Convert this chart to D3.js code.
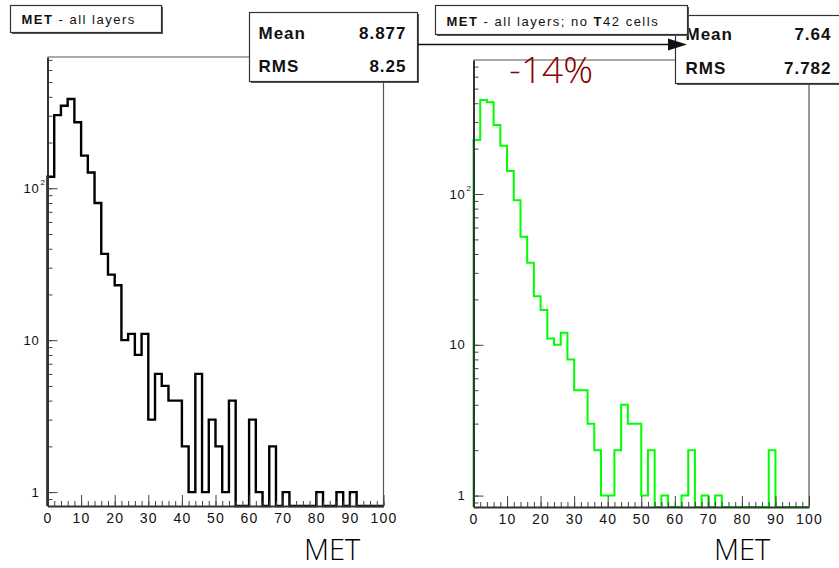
<!DOCTYPE html>
<html>
<head>
	<title>MET histograms</title>
	<script type="text/javascript" src="https://d3js.org/d3.v7.min.js"></script>
	<style>
		body { margin: 0; background: white; }
		.root text { font-family: "Liberation Sans", Arial, sans-serif; fill: #111; }
		.tick line { stroke: #444; }
		.root text.big { font-family: "Open Sans Light", "Lato Light", "Lato", "Open Sans", sans-serif; font-weight: 300; }
	</style>
</head>
<body>
<svg class="root" width="839" height="568"></svg>

<script type="text/javascript">
// bin contents, 50 bins of width 2 between 0 and 100
var metAll = [119, 303, 349, 387, 272, 164, 127, 80, 37, 27,
              23, 10, 11, 8, 11, 3, 6, 5, 4, 4,
              2, 1, 6, 1, 3, 2, 1, 4, 0, 0,
              3, 1, 0, 2, 0, 1, 0, 0, 0, 0,
              1, 0, 0, 1, 0, 1, 0, 0, 0, 0];
var metNoT42 = [228, 421, 406, 287, 209, 142, 91, 52, 35, 21,
                17, 11, 10, 12, 8, 5, 5, 3, 2, 1,
                1, 2, 4, 3, 3, 1, 2, 0, 1, 0,
                0, 1, 2, 0, 1, 0, 1, 0, 0, 0,
                0, 0, 0, 0, 2, 0, 0, 0, 0, 0];
var binWidth = 2;

var xTicks = [0, 10, 20, 30, 40, 50, 60, 70, 80, 90, 100];
var yTickValues = [1, 10, 100];
var yTickLabels = [["1", ""], ["10", ""], ["10", "2"]];

var statNames = ["Mean", "RMS"];
var statsAll = ["8.877", "8.25"];
var statsNoT42 = ["7.64", "7.782"];
var changeLabel = "-14%";
var xTitle = "MET";

var svg = d3.select(".root");

// a ROOT-like pave: white box with a small shadow
function pave(x0, y0, w, h) {
	svg.append("rect").attr("x", x0 + 1.5).attr("y", y0 + 1.5).attr("width", w).attr("height", h)
		.attr("fill", "#555");
	svg.append("rect").attr("x", x0).attr("y", y0).attr("width", w).attr("height", h)
		.attr("fill", "white").attr("stroke", "#333").attr("stroke-width", 1.2);
}

function drawPanel(p) {
	var x = d3.scaleLinear().domain([0, 100]).range([p.left, p.right]);
	var y = d3.scaleLog().domain(p.yDomain).range([p.bottom, p.top]);
	var g = svg.append("g");

	// frame top and right
	g.append("path")
		.attr("d", "M" + p.left + "," + p.top + "H" + p.right + "V" + p.bottom)
		.attr("fill", "none").attr("stroke", "#555").attr("stroke-width", 1.2);

	// histogram outline as steps
	var pts = [[x(0), p.bottom]];
	p.values.forEach(function(c, i) {
		var yy = c > 0 ? y(c) : p.bottom;
		pts.push([x(i * binWidth), yy]);
		pts.push([x((i + 1) * binWidth), yy]);
	});
	pts.push([x(100), p.bottom]);
	g.append("path")
		.attr("d", d3.line()(pts))
		.attr("fill", "none")
		.attr("stroke", p.color)
		.attr("stroke-width", p.lineWidth);

	// x axis: minor ticks every 2, major every 10
	var xMinor = g.append("g").attr("transform", "translate(0," + p.bottom + ")")
		.call(d3.axisBottom(x).tickValues(d3.range(0, 101, 2)).tickSize(-5).tickFormat(""));
	xMinor.select(".domain").remove();
	var xMajor = g.append("g").attr("transform", "translate(0," + p.bottom + ")")
		.call(d3.axisBottom(x).tickValues(xTicks).tickSize(-11).tickSizeOuter(0).tickPadding(7));
	xMajor.select(".domain").attr("stroke", "#333").attr("stroke-width", 2);
	xMajor.selectAll("text").attr("font-size", 14).attr("letter-spacing", 1.2).attr("fill", "#111");

	// y axis (log): minor ticks at 2..9 of each decade, major at decades
	var yMinor = g.append("g").attr("transform", "translate(" + p.left + ",0)")
		.call(d3.axisLeft(y).tickValues(y.ticks()).tickSize(-5).tickFormat(""));
	yMinor.select(".domain").remove();
	var yMajor = g.append("g").attr("transform", "translate(" + p.left + ",0)")
		.call(d3.axisLeft(y).tickValues(yTickValues).tickSize(-10).tickSizeOuter(0).tickFormat(""));
	yMajor.select(".domain").attr("stroke", "#333").attr("stroke-width", 2);

	// y labels with superscript exponent
	yTickValues.forEach(function(v, i) {
		var lab = yTickLabels[i];
		g.append("text")
			.attr("x", p.left - 8).attr("y", y(v)).attr("dy", "0.35em")
			.attr("text-anchor", "end").attr("font-size", 13).attr("letter-spacing", 0.8)
			.text(lab[0]);
		if (lab[1]) {
			g.append("text")
				.attr("x", p.left - 7).attr("y", y(v) - 3)
				.attr("font-size", 8)
				.text(lab[1]);
		}
	});

	// x title
	svg.append("text").attr("class", "big")
		.attr("x", p.titleX).attr("y", p.titleY)
		.attr("text-anchor", "middle").attr("font-size", 29)
		.style("fill", "#000")
		.text(xTitle);
}

function drawStats(b, vals) {
	pave(b.x, b.y, b.w, b.h);
	statNames.forEach(function(n, i) {
		svg.append("text").attr("x", b.x + b.pad).attr("y", b.y + b.base[i])
			.attr("font-size", 17).attr("font-weight", "bold").attr("letter-spacing", 1)
			.text(n);
		svg.append("text").attr("x", b.x + b.w - b.padR).attr("y", b.y + b.base[i])
			.attr("text-anchor", "end")
			.attr("font-size", 17).attr("font-weight", "bold").attr("letter-spacing", 1)
			.text(vals[i]);
	});
}

function drawTitle(b, parts) {
	pave(b.x, b.y, b.w, b.h);
	var t = svg.append("text").attr("x", b.x + 11).attr("y", b.y + b.base)
		.attr("font-size", 13).attr("letter-spacing", 1.5);
	parts.forEach(function(s) {
		t.append("tspan").attr("font-weight", s[1] ? "bold" : "normal").text(s[0]);
	});
}

// left: all layers
drawPanel({
	values: metAll, color: "#000", lineWidth: 2.4,
	left: 47.5, right: 383.5, top: 57, bottom: 506,
	yDomain: [0.81, 731], titleX: 332, titleY: 559.5
});
// right: without T42 cells
drawPanel({
	values: metNoT42, color: "#00ff00", lineWidth: 2,
	left: 473.5, right: 809, top: 60, bottom: 507,
	yDomain: [0.84, 774], titleX: 742, titleY: 559.5
});

drawStats({x: 249.5, y: 12.5, w: 168, h: 69, pad: 9, padR: 11, base: [26, 59]}, statsAll);
drawStats({x: 675.5, y: 15.5, w: 175, h: 68, pad: 10, padR: 19, base: [24, 58]}, statsNoT42);

drawTitle({x: 10.5, y: 5.5, w: 151, h: 27, base: 18}, [["MET", true], [" - all layers", false]]);
drawTitle({x: 435.5, y: 5.5, w: 252, h: 29, base: 20},
	[["MET", true], [" - all layers; no ", false], ["T", true], ["42 cells", false]]);

// arrow from left stats to right stats
svg.append("line").attr("x1", 418).attr("y1", 44.5).attr("x2", 670).attr("y2", 44.5)
	.attr("stroke", "#111").attr("stroke-width", 1.4);
svg.append("path").attr("d", "M668,38.5L687,44.5L668,50.5Z").attr("fill", "#111");

// relative change
svg.append("text").attr("class", "big")
	.attr("x", 509).attr("y", 83)
	.attr("font-size", 37).style("fill", "#8b0000")
	.text(changeLabel);
</script>
</body>
</html>
